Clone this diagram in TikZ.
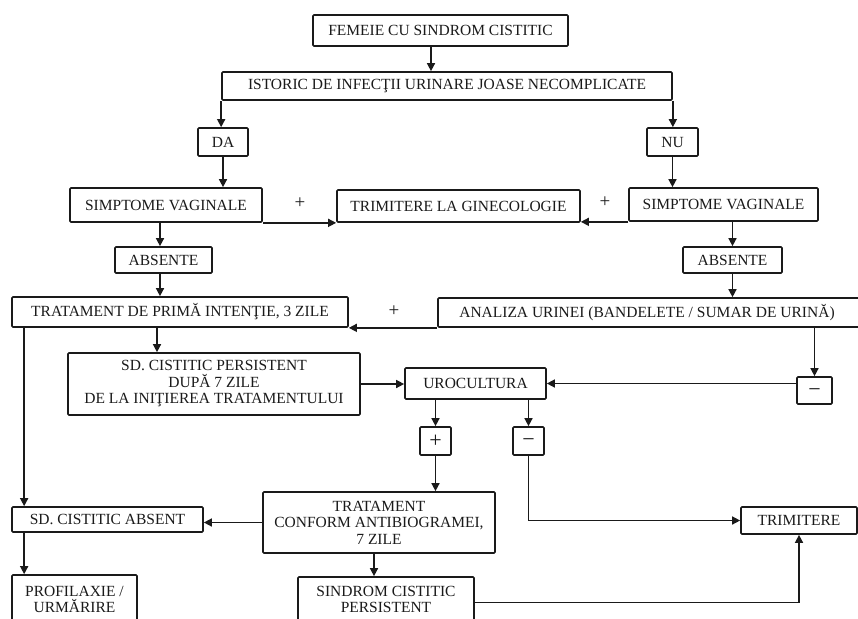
\documentclass[tikz,border=0pt]{standalone}
\usepackage{fontspec}
\setmainfont{Liberation Serif}
\usetikzlibrary{arrows.meta}
\definecolor{ink}{HTML}{1A1A1A}
\tikzset{
  bx/.style={draw=ink, line width=1.7pt, rounded corners=1pt, inner sep=0pt,
    font=\fontsize{15.5}{16.5}\selectfont, text=ink},
  sgbox/.style={bx, font=\fontsize{22}{22}\selectfont},
  mibox/.style={bx, font=\fontsize{22}{22}\selectfont, text height=0pt, text depth=0pt},
  arr/.style={draw=ink, line width=1.5pt, -{Triangle[width=8pt,length=8pt]}},
  sg/.style={font=\fontsize{19}{19}\selectfont, text=ink, inner sep=0pt}
}
\newcommand{\bxat}[6]{% name, x1, x2, y1, y2, text
  \node[bx, align=center, minimum width={#3-#2}, minimum height={#5-#4}] (#1) at ({(#2+#3)/2},{(#4+#5)/2}) {#6};}
\newcommand{\sgat}[6]{% name, x1, x2, y1, y2, sign
  \node[sgbox, minimum width={#3-#2}, minimum height={#5-#4}] (#1) at ({(#2+#3)/2},{(#4+#5)/2}) {#6};}
\newcommand{\miat}[5]{% name, x1, x2, y1, y2
  \node[mibox, minimum width={#3-#2}, minimum height={#5-#4}] (#1) at ({(#2+#3)/2},{(#4+#5)/2}) {\raisebox{-5.5pt}{−}};}
\begin{document}
\begin{tikzpicture}[x=1pt,y=-1pt]
\useasboundingbox (0,0) rectangle (858,618);
\fill[white] (0,0) rectangle (858,618);
\clip (0,0) rectangle (858,618);
\bxat{fem}{313}{568}{15}{46}{FEMEIE CU SINDROM CISTITIC}
\bxat{ist}{222}{672}{72}{100}{ISTORIC DE INFECŢII URINARE JOASE NECOMPLICATE}
\bxat{da}{198}{248}{128}{156}{DA}
\bxat{nu}{647}{698}{128}{156}{NU}
\bxat{sva}{70}{262}{188}{222}{SIMPTOME VAGINALE}
\bxat{gin}{337}{580}{190}{222}{TRIMITERE LA GINECOLOGIE}
\bxat{svb}{629}{818}{188}{221}{SIMPTOME VAGINALE}
\bxat{absa}{115}{212}{247}{273}{ABSENTE}
\bxat{absb}{683}{782}{247}{273}{ABSENTE}
\bxat{trat}{12}{348}{297}{327}{TRATAMENT DE PRIMĂ INTENŢIE, 3 ZILE}
\bxat{ana}{438}{870}{298}{327}{\hspace*{-14pt}ANALIZA URINEI (BANDELETE / SUMAR DE URINĂ)}
\bxat{sdp}{68}{360}{353}{415}{SD. CISTITIC PERSISTENT\\DUPĂ 7 ZILE\\DE LA INIŢIEREA TRATAMENTULUI}
\bxat{uro}{405}{546}{368}{399}{UROCULTURA}
\miat{ma}{797}{832}{377}{404}
\sgat{pb}{420}{451}{427}{455}{+}
\miat{mb}{513}{544}{427}{455}
\bxat{tca}{263}{495}{492}{553}{TRATAMENT\\CONFORM ANTIBIOGRAMEI,\\7 ZILE}
\bxat{abs}{12}{203}{507}{532}{SD. CISTITIC ABSENT}
\bxat{trim}{741}{857}{507}{534}{TRIMITERE}
\bxat{prof}{12}{137}{575}{624}{PROFILAXIE /\\URMĂRIRE}
\bxat{sin}{298}{474}{577}{622}{SINDROM CISTITIC\\PERSISTENT}
% plus signs
\node[sg] (pl1) at (300,203) {+};
\node[sg] (pl2) at (605,202) {+};
\node[sg] (pl3) at (394,311) {+};
% connectors
\draw[arr] ([xshift=-9.5pt]fem.south) -- ([xshift=-9.5pt]fem.south |- ist.north);
\draw[arr] (ist.south west) -- (ist.south west |- da.north);
\draw[arr] (ist.south east) -- (ist.south east |- nu.north);
\draw[arr] (da.south) -- (da.south |- sva.north);
\draw[arr] (nu.south) -- (nu.south |- svb.north);
\draw[arr] (sva.south east) -- (gin.south west);
\draw[arr] (svb.south west) -- (svb.south west -| gin.east);
\draw[arr] ([xshift=-3.5pt]absa.north |- sva.south) -- ([xshift=-3.5pt]absa.north);
\draw[arr] ([xshift=-3.5pt]absa.south) -- ([xshift=-3.5pt]absa.south |- trat.north);
\draw[arr] (absb.north |- svb.south) -- (absb.north);
\draw[arr] (absb.south) -- (absb.south |- ana.north);
\draw[arr] (ana.south west) -- (trat.south east);
\draw[arr] ([xshift=-23pt]trat.south) -- ([xshift=-23pt]trat.south |- sdp.north);
\draw[arr] (sdp.east) -- (sdp.east -| uro.west);
\draw[arr] ([xshift=13pt]trat.south west) -- ([xshift=13pt]trat.south west |- abs.north);
\draw[arr] (ma.north |- ana.south) -- (ma.north);
\draw[arr] (ma.west |- uro.east) -- (uro.east);
\draw[arr] (pb.north |- uro.south) -- (pb.north);
\draw[arr] (mb.north |- uro.south) -- (mb.north);
\draw[arr] (pb.south) -- (pb.south |- tca.north);
\draw[arr] (mb.south) |- (trim.west);
\draw[arr] (tca.west) -- (tca.west -| abs.east);
\draw[arr] ([xshift=13pt]abs.south west) -- ([xshift=13pt]abs.south west |- prof.north);
\draw[arr] ([xshift=-5pt]tca.south) -- ([xshift=-5pt]tca.south |- sin.north);
\draw[arr] ([yshift=-3pt]sin.east) -| (trim.south);
\end{tikzpicture}
\end{document}
